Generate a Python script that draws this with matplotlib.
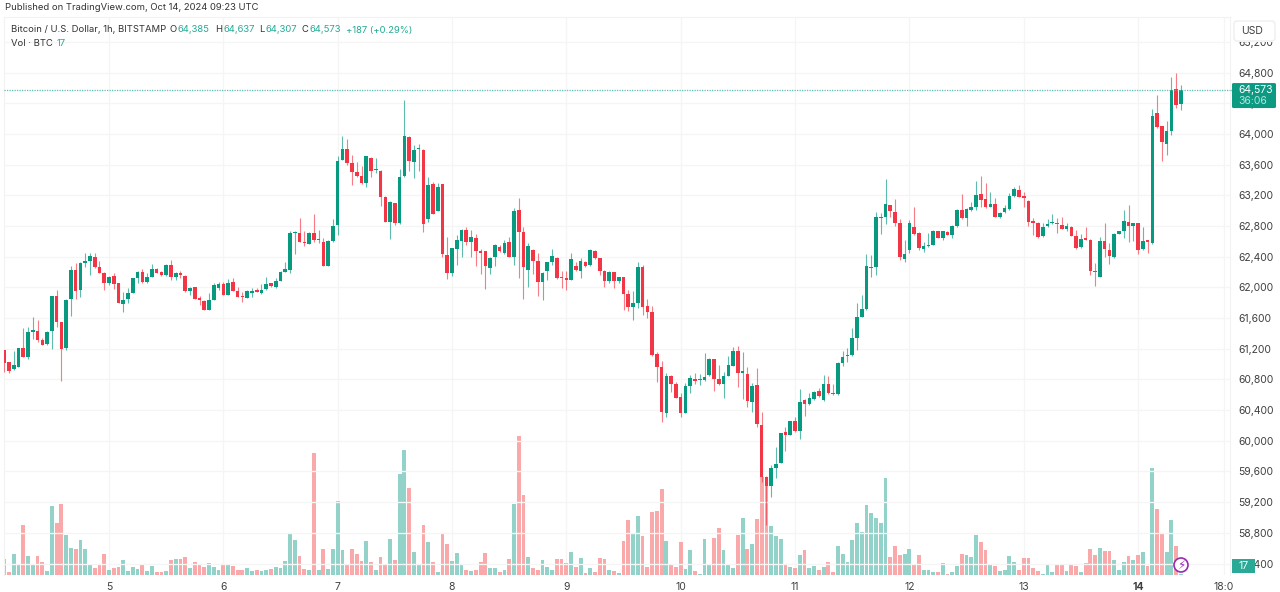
import numpy as np
import matplotlib
matplotlib.use("Agg")
import matplotlib.pyplot as plt
from matplotlib.patches import Rectangle, FancyBboxPatch, Circle

plt.rcParams['font.family'] = ['Inter', 'DejaVu Sans']

opens = [
61184,61023,60932,60967,61206,61097,61423,61428,61315,61262,
61436,61884,61545,61206,61845,62227,61966,62323,62349,62401,
62266,62192,62062,62149,62053,61788,61845,61932,62118,62205,
62071,62140,62236,62201,62162,62292,62136,62192,62149,61949,
62001,61849,61823,61706,61836,61988,62045,61901,62075,61953,
61880,61867,61932,61958,61932,61975,62053,62001,62088,62205,
62227,62705,62705,62592,62570,62705,62618,62588,62284,62605,
62818,63661,63800,63627,63509,63453,63361,63687,63527,63522,
63183,62857,63096,62836,63448,63961,63640,63800,63796,62888,
63348,63001,63344,62423,62192,62505,62610,62749,62592,62649,
62475,62470,62253,62392,62523,62445,62592,62401,63009,62718,
62227,62488,62349,62071,62218,62336,62384,62132,62110,62097,
62284,62218,62331,62287,62479,62379,62218,62087,62196,62083,
62135,61909,61740,61801,62261,61753,61683,61127,60966,60362,
60849,60736,60566,60366,60718,60805,60792,60788,60853,61062,
60805,60736,60849,60979,61175,60888,60870,60510,60731,60210,
59523,59410,59645,59715,60114,60080,60262,60123,60532,60479,
60540,60645,60532,60736,60614,60605,61010,61101,61118,61336,
61618,61714,62253,62270,62905,62922,63070,62979,62836,62375,
62488,62792,62709,62505,62540,62557,62731,62649,62722,62683,
62796,63009,62905,63009,63053,63214,63148,63053,63083,62914,
62983,63018,63192,63270,63183,63127,62857,62844,62670,62796,
62835,62835,62809,62761,62792,62670,62527,62636,62618,62210,
62140,62601,62483,62392,62701,62731,62853,62805,62836,62496,
62605,62579,64278,64100,63874,64039,64591,64385]
highs = [
61190,61030,61175,61215,61471,61480,61610,61575,61336,61436,
61890,61966,61550,61845,62279,62323,62336,62453,62453,62445,
62340,62200,62150,62184,62060,61940,61992,61940,62218,62236,
62184,62301,62258,62218,62300,62358,62195,62214,62160,62005,
62010,61893,61830,61923,62062,62075,62075,62106,62118,62001,
61945,61960,61988,61988,62045,62132,62060,62118,62210,62331,
62740,62736,62901,62740,62727,62953,62749,62640,62612,62888,
63714,63974,63931,63727,63640,63583,63715,63705,63683,63530,
63190,63120,63105,63540,64444,63970,63857,63870,63805,63435,
63379,63357,63350,62662,62520,62684,62755,62784,62749,62692,
62497,62478,62392,62565,62553,62618,62662,63031,63162,62792,
62575,62495,62445,62200,62335,62497,62392,62214,62218,62453,
62336,62379,62340,62495,62487,62385,62225,62212,62203,62142,
62142,61966,61957,62335,62292,61844,61757,61162,61044,60879,
60856,60770,60618,60749,60853,60879,60870,61149,61075,61070,
60988,60892,61105,61218,61236,61162,60957,60749,60944,60379,
59540,59684,59923,60105,60184,60260,60314,60679,60540,60627,
60645,60688,60853,60844,60740,61022,61175,61205,61466,61801,
61900,62435,62422,62980,62975,63409,63080,63148,62888,62618,
62879,63044,62716,62597,62705,62748,62740,62738,62730,62808,
63016,63218,63030,63118,63392,63453,63366,63244,63161,62985,
63070,63227,63305,63335,63248,63135,62901,62850,62836,62888,
62957,62901,62914,62836,62800,62748,62696,62783,62625,62323,
62662,62844,62583,62710,62738,63009,63074,62845,62843,62783,
62612,64322,64509,64105,64174,64748,64800,64637]
lows = [
60902,60890,60925,60960,61090,61062,61328,61293,61245,61255,
61193,61480,60780,61184,61627,61845,61880,62262,62162,62255,
62185,61966,62032,61984,61792,61684,61801,61925,62053,62060,
62060,62130,62185,62155,62155,62097,62097,62118,61940,61901,
61845,61771,61700,61700,61830,61966,61895,61895,61950,61875,
61806,61860,61880,61935,61914,61970,62010,61995,62080,62200,
62184,62436,62592,62540,62562,62597,62575,62275,62275,62598,
62684,63655,63592,63340,63440,63350,63305,63435,63496,63066,
62850,62636,62810,62830,63440,63518,63427,63522,62727,62857,
62955,62995,62401,62114,62149,62288,62392,62553,62392,62284,
62175,61975,62171,62284,62462,62440,62395,62292,62127,61853,
62001,62171,61888,61836,62097,62292,62110,61988,61966,62090,
62220,62118,62270,62280,62370,62161,62009,62053,61996,62053,
61705,61692,61575,61727,61640,61605,61110,60770,60249,60306,
60640,60555,60306,60360,60627,60740,60727,60780,60845,60645,
60730,60553,60840,60970,60697,60540,60445,60380,60184,59467,
58900,59267,59510,59708,59871,60072,60115,60023,60323,60472,
60532,60576,60525,60610,60597,60598,60975,61031,61110,61183,
61610,61705,62131,62161,62696,62827,62914,62801,62357,62336,
62453,62679,62488,62466,62533,62550,62640,62618,62680,62640,
62790,62898,62801,63002,63009,63044,63040,63045,62915,62905,
62975,63010,63185,63175,63053,62805,62683,62640,62660,62790,
62828,62705,62760,62740,62668,62506,62520,62615,62162,62023,
62132,62401,62305,62385,62695,62648,62596,62605,62436,62490,
62453,62570,64074,63653,63731,63983,64335,64307]
closes = [
61019,60910,60984,61206,61097,61415,61436,61315,61254,61419,
61884,61554,61201,61840,62227,61958,62323,62349,62410,62266,
62192,62062,62140,62049,61801,61840,61923,62127,62201,62071,
62140,62236,62192,62162,62292,62132,62188,62162,61949,61997,
61853,61840,61706,61836,62027,62040,61901,62053,61958,61880,
61871,61949,61949,61945,61966,62045,62018,62088,62201,62236,
62705,62727,62597,62579,62705,62618,62627,62284,62605,62801,
63653,63800,63627,63501,63448,63357,63709,63522,63540,63183,
62857,63114,62836,63444,63970,63644,63792,63805,62823,63335,
62962,63314,62436,62192,62514,62618,62749,62597,62662,62475,
62449,62279,62384,62558,62475,62575,62401,63001,62718,62262,
62540,62340,62066,62192,62327,62410,62118,62118,62101,62371,
62227,62339,62279,62487,62379,62218,62087,62205,62083,62135,
61909,61740,61801,62261,61748,61675,61118,60966,60375,60849,
60736,60562,60366,60718,60823,60784,60801,60836,61062,60810,
60736,60844,60984,61175,60888,60897,60514,60714,60214,59523,
59410,59645,59697,60097,60071,60253,60123,60501,60475,60558,
60636,60584,60736,60618,60605,61014,61097,61118,61336,61618,
61722,62279,62261,62922,62914,63092,63001,62840,62401,62436,
62844,62692,62514,62544,62557,62740,62649,62731,62688,62801,
63009,62905,63022,63053,63205,63140,63048,63088,62922,62975,
63040,63192,63279,63183,63170,62848,62844,62661,62792,62831,
62848,62827,62766,62805,62675,62514,62636,62622,62218,62201,
62601,62501,62414,62701,62731,62861,62801,62836,62488,62601,
62596,64239,64096,63892,64039,64570,64374,64573]
volumes = [
48,9,62,32,148,57,33,55,39,10,
207,156,211,119,80,76,104,76,33,20,
31,63,14,21,23,43,12,23,18,33,
10,27,8,8,12,43,46,48,52,19,
39,28,22,36,24,13,31,33,26,13,
15,20,12,15,10,15,18,23,19,41,
124,104,57,18,13,366,15,78,18,78,
222,75,32,78,63,41,102,38,13,52,
33,106,44,303,375,259,69,30,148,97,
37,8,126,93,41,65,30,15,10,15,
39,65,19,21,7,15,47,211,416,239,
54,19,13,43,22,15,47,47,34,67,
23,51,5,20,9,50,48,15,12,6,
100,163,126,175,115,24,189,191,256,102,
33,22,98,18,73,10,3,108,28,111,
141,73,30,19,119,169,77,91,167,293,
290,145,115,107,30,22,20,59,75,21,
25,15,22,39,9,87,62,37,104,156,
127,208,185,171,156,290,53,86,58,62,
76,32,60,15,15,7,7,36,3,9,
26,62,58,52,120,99,75,28,25,12,
14,57,39,15,51,49,19,12,3,33,
7,30,28,10,31,25,7,36,78,59,
80,71,71,43,13,39,57,43,58,69,
26,321,198,126,67,164,86,3]
day_positions = [22, 46, 70, 94, 118, 142, 166, 190, 214, 238, 256]
day_labels = ['5', '6', '7', '8', '9', '10', '11', '12', '13', '14', '18:0']
price_ticks = list(range(58400, 65600, 400))
last_price = 64573
last_volume = 17

W, H = 1280, 592
fig = plt.figure(figsize=(W / 100, H / 100), dpi=100, facecolor='white')

def box(l, t, r, b):
    return [l / W, 1 - b / H, (r - l) / W, (b - t) / H]

AX_L, AX_T, AX_R, AX_B = 4, 17, 1230, 575
SLOPE, X0 = 4.764, 4.2
xlim = ((AX_L - X0) / SLOPE, (AX_R - X0) / SLOPE)
PX_PER = 0.0767
ylim = (64000 - (AX_B - 134) / PX_PER, 64000 - (AX_T - 134) / PX_PER)

GREEN, RED = '#089981', '#F23645'
GRID = '#f5f5f5'
TXT = '#404040'
AXFS = 7.5
HDFS = 6.8

o = np.array(opens, float); c = np.array(closes, float)
hi = np.array(highs, float); lo = np.array(lows, float)
v = np.array(volumes, float)
idx = np.arange(len(o))
up = c >= o

# volume pane (beneath)
axv = fig.add_axes(box(AX_L, AX_T, AX_R, AX_B))
axv.set_xlim(xlim)
axv.set_ylim(-1.5, (AX_B - AX_T) * 3 - 1.5)
axv.bar(idx, v, width=0.8, color=np.where(up, '#92d2c9', '#f9a9a9'), linewidth=0, zorder=2)
axv.set_yticks([])
axv.set_xticks(day_positions)
axv.set_xticklabels(day_labels, fontsize=AXFS, color=TXT)
axv.get_xticklabels()[9].set_fontweight('bold')
axv.tick_params(axis='x', length=0, pad=5)
axv.grid(axis='x', color=GRID, lw=1, zorder=0)
axv.set_axisbelow(True)
for s in axv.spines.values():
    s.set_color('#f2f2f2'); s.set_linewidth(0.8)
axv.spines['bottom'].set_visible(False)

# price pane
ax = fig.add_axes(box(AX_L, AX_T, AX_R, AX_B), zorder=2)
ax.patch.set_alpha(0)
ax.set_xlim(xlim); ax.set_ylim(ylim)
ax.set_xticks([])
ax.yaxis.tick_right()
ax.set_yticks(price_ticks)
ax.set_yticklabels([f'{p:,}' for p in price_ticks], fontsize=AXFS, color=TXT)
ax.tick_params(axis='y', length=0, pad=5.8)
ax.grid(axis='y', color=GRID, lw=1, zorder=0)
ax.set_axisbelow(True)
for s in ax.spines.values():
    s.set_visible(False)

colors = np.where(up, GREEN, RED)
ax.vlines(idx, lo, hi, colors=colors, lw=0.8, alpha=0.65, zorder=3)
min_h = 1.2 / PX_PER
bottoms = np.minimum(o, c)
heights = np.maximum(np.abs(c - o), min_h)
ax.bar(idx, heights, bottom=bottoms, width=0.76, color=colors, linewidth=0, zorder=4)
ax.axhline(last_price, color='#4db8a6', lw=0.9, ls=(0, (1, 1)), zorder=5, alpha=0.9)

# overlay in pixels for chrome and texts
ov = fig.add_axes([0, 0, 1, 1], zorder=5)
ov.set_xlim(0, W); ov.set_ylim(H, 0); ov.axis('off'); ov.patch.set_alpha(0)
fig.canvas.draw()
py = H - ax.transData.transform((0, last_price))[1]

ov.plot([AX_R, 1233], [py, py], color='#4db8a6', lw=0.9, ls=(0, (1, 1)))
ov.add_patch(Rectangle((1232, 39), 46, 2.5, fc='white', ec='none', zorder=1))
ov.add_patch(FancyBboxPatch((1234, 21), 41, 20, boxstyle='round,pad=0,rounding_size=3',
                            fc='white', ec='#eeeeee', lw=1, zorder=1.5))
ov.text(1252, 30.5, 'USD', fontsize=AXFS, color=TXT, ha='center', va='center', zorder=2)
ov.add_patch(FancyBboxPatch((1232, py - 7), 44, 25, boxstyle='round,pad=0,rounding_size=1.5',
                            fc='#0d9a82', ec='none', zorder=2))
ov.text(1238, py - 0.5, f'{last_price:,}', fontsize=AXFS, color='white', va='center', zorder=3)
ov.text(1238, py + 10.5, '36:06', fontsize=AXFS, color='#b5e3da', va='center', zorder=3)
ov.add_patch(Rectangle((1232, 559), 23, 14, fc='#2aa996', ec='none', zorder=2))
ov.text(1244, 566, f'{last_volume}', fontsize=AXFS, color='white', ha='center', va='center', zorder=3)
ov.add_patch(Circle((1181, 565), 7, fc='white', ec='#9c27b0', lw=1.2, zorder=6))
ov.text(1181, 565.5, '\u26a1', fontsize=8.5, color='#9c27b0', ha='center', va='center',
        family=['DejaVu Sans'], zorder=7)

ov.text(5, 7.5, 'Published on TradingView.com, Oct 14, 2024 09:23 UTC', fontsize=HDFS,
        color='#333333', va='center')
ov.text(11, 30, 'Bitcoin / U.S. Dollar, 1h, BITSTAMP', fontsize=HDFS, color='#333333', va='center')
LG = '#22ab94'
for x, s, col in [(170, 'O', '#333333'), (178, '64,385', LG), (215, 'H', '#333333'), (223, '64,637', LG),
                  (259, 'L', '#333333'), (265, '64,307', LG), (302, 'C', '#333333'), (309, '64,573', LG),
                  (346, '+187 (+0.29%)', LG)]:
    ov.text(x, 30, s, fontsize=HDFS, color=col, va='center')
ov.text(11, 43, 'Vol \u00b7 BTC', fontsize=HDFS, color='#333333', va='center')
ov.text(57, 43, f'{last_volume}', fontsize=HDFS, color=LG, va='center')

fig.savefig('out.png', dpi=100)
